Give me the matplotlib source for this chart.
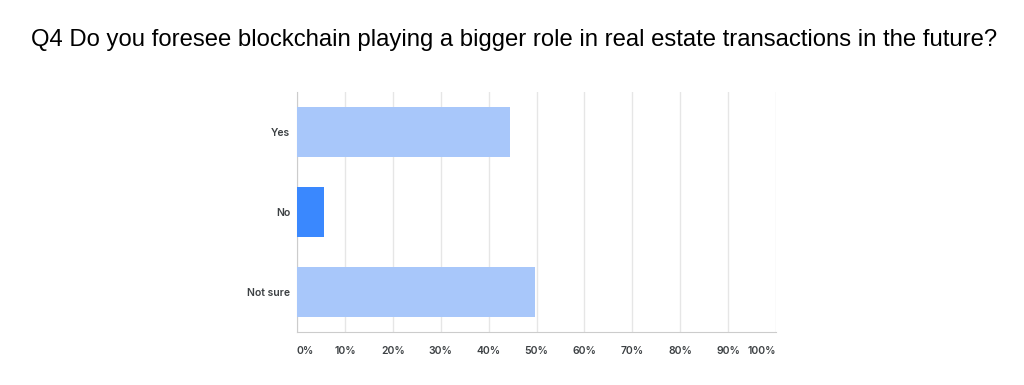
import matplotlib
matplotlib.use("Agg")
import matplotlib.pyplot as plt
import numpy as np

# survey answers (share of respondents, %)
answers = ['Yes', 'No', 'Not sure']
shares = [44.5, 5.6, 49.7]
bar_colors = ['#a8c7fa', '#3a88fe', '#a8c7fa']
tick_values = [0, 10, 20, 30, 40, 50, 60, 70, 80, 90, 100]
tick_labels = ['0%', '10%', '20%', '30%', '40%', '50%', '60%', '70%', '80%', '90%', '100%']
title = 'Q4 Do you foresee blockchain playing a bigger role in real estate transactions in the future?'

fig = plt.figure(figsize=(10.24, 3.85), dpi=100)
ax = fig.add_axes([0.290, 0.1377, 0.468, 0.623])

y = np.arange(len(answers))
ax.barh(y, shares, height=0.625, color=bar_colors, zorder=3)
ax.set_ylim(len(answers) - 0.5, -0.5)
ax.set_xlim(0, 100)

ax.set_yticks(y)
ax.set_yticklabels(answers, fontfamily='Inter', fontweight='semibold',
                   fontsize=7.5, color='#3c4043')
ax.set_xticks(tick_values)
ax.set_xticklabels(tick_labels, fontfamily='Inter', fontweight='semibold',
                   fontsize=7.5, color='#3c4043')
xl = ax.get_xticklabels()
xl[0].set_ha('left')
xl[-1].set_ha('right')
ax.tick_params(axis='both', length=0)
ax.tick_params(axis='x', pad=10)
ax.tick_params(axis='y', pad=5)

ax.grid(axis='x', color='#e6e6e6', linewidth=1, zorder=0)
for s in ['top', 'right']:
    ax.spines[s].set_visible(False)
ax.spines['left'].set_color('#cccccc')
ax.spines['bottom'].set_color('#cccccc')

fig.text(0.502, 0.896, title, ha='center', va='center', fontsize=17.2,
         fontfamily='Liberation Sans', color='#000000')

fig.savefig('out.png', dpi=100)
